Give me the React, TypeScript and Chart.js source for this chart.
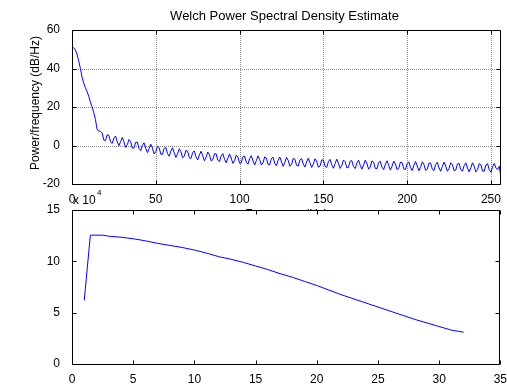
import React, { useEffect, useRef } from "react";
import { Chart, registerables } from "chart.js";

Chart.register(...registerables);

const W = 507;
const H = 386;
const FONT = '"Liberation Sans", Arial, Helvetica, sans-serif';

// Top subplot: Welch PSD (dB/Hz) at frequencies 0..256
const psdDb = [
  51.2, 50.8, 49.6, 47.5, 44.0, 40.0, 35.5, 32.5, 30.0, 28.0,
  25.5, 22.5, 20.0, 17.0, 13.5, 8.2, 7.6, 7.3, 6.5, 2.8,
  2.6, 5.6, 5.3, 1.9, 1.1, 3.9, 4.9, 1.9, -0.1, 2.1,
  4.2, 1.9, -1.0, 0.4, 3.1, 2.0, -1.4, -1.3, 1.7, 1.8,
  -1.5, -2.7, 0.1, 1.4, -1.5, -3.7, -1.6, 0.7, -1.3, -4.4,
  -3.3, -0.4, -1.1, -4.5, -4.6, -1.5, -1.0, -4.2, -5.6, -2.9,
  -1.2, -3.8, -6.2, -4.3, -1.7, -3.3, -6.4, -5.6, -2.5, -3.0,
  -6.3, -6.7, -3.7, -2.8, -5.9, -7.5, -4.9, -3.0, -5.3, -7.9,
  -6.2, -3.4, -4.8, -7.9, -7.4, -4.3, -4.3, -7.6, -8.4, -5.4,
  -4.2, -7.1, -9.0, -6.6, -4.4, -6.5, -9.3, -7.9, -5.0, -6.0,
  -9.2, -9.0, -5.8, -5.5, -8.7, -9.7, -6.8, -5.3, -8.0, -10.1,
  -7.9, -5.4, -7.3, -10.1, -9.0, -5.9, -6.6, -9.8, -9.9, -6.7,
  -6.1, -9.3, -10.5, -7.7, -6.0, -8.5, -10.8, -8.8, -6.2, -7.7,
  -10.8, -9.9, -6.7, -7.1, -10.3, -10.7, -7.6, -6.7, -9.7, -11.2,
  -8.6, -6.6, -8.9, -11.4, -9.7, -6.9, -8.1, -11.3, -10.7, -7.5,
  -7.5, -10.8, -11.4, -8.4, -7.2, -10.0, -11.8, -9.4, -7.1, -9.2,
  -11.9, -10.4, -7.5, -8.4, -11.6, -11.3, -8.1, -7.9, -11.0, -12.0,
  -9.1, -7.6, -10.3, -12.3, -10.1, -7.6, -9.4, -12.3, -11.1, -8.0,
  -8.7, -11.9, -12.0, -8.8, -8.2, -11.3, -12.5, -9.7, -7.9, -10.5,
  -12.8, -10.7, -8.1, -9.6, -12.6, -11.7, -8.6, -8.9, -12.2, -12.5,
  -9.4, -8.5, -11.5, -13.0, -10.3, -8.3, -10.6, -13.1, -11.3, -8.5,
  -9.8, -12.9, -12.3, -9.1, -9.1, -12.3, -13.0, -9.9, -8.7, -11.6,
  -13.4, -10.9, -8.6, -10.7, -13.4, -11.9, -9.0, -9.9, -13.1, -12.8,
  -9.6, -9.3, -12.5, -13.4, -10.5, -9.0, -11.7, -13.7, -11.5, -9.0,
  -10.8, -13.7, -12.5, -9.4, -10.1, -13.3, -13.3, -10.1, -9.5, -12.6,
  -13.9, -11.0, -9.3, -11.8, -12.5, -10.8, -17.0,
];
const topXTicks = [0, 50, 100, 150, 200, 250];
const topYTicks = [-20, 0, 20, 40, 60];

// Bottom subplot (values x 10^4)
const botX = [1, 1.5, 2.5, 3, 4, 5, 6, 7, 8, 9, 10, 11, 12, 13, 14, 15, 16, 17, 18, 19, 20, 21, 22, 23, 24, 25, 26, 27, 28, 29, 30, 31, 32];
const botY = [6.2, 12.55, 12.55, 12.45, 12.35, 12.2, 12.0, 11.75, 11.55, 11.35, 11.1, 10.8, 10.45, 10.2, 9.9, 9.55, 9.2, 8.8, 8.45, 8.05, 7.65, 7.2, 6.75, 6.35, 5.95, 5.55, 5.15, 4.75, 4.35, 4.0, 3.65, 3.3, 3.1];
const botXTicks = [0, 5, 10, 15, 20, 25, 30, 35];
const botYTicks = [0, 5, 10, 15];

const TITLE = "Welch Power Spectral Density Estimate";
const YLABEL = "Power/frequency (dB/Hz)";
const XLABEL = "Frequency (Hz)";

type Cfg = {
  grid: boolean;
  xTicks: number[];
  yTicks: number[];
  extra?: (ctx: CanvasRenderingContext2D, chart: any) => void;
};

function axesPlugin(id: string, cfg: Cfg) {
  return {
    id,
    beforeDatasetsDraw(chart: any) {
      if (!cfg.grid) return;
      const { ctx, chartArea: a } = chart;
      const xs = chart.scales.x;
      const ys = chart.scales.y;
      ctx.save();
      ctx.strokeStyle = "#8c8c8c";
      ctx.lineWidth = 1;
      ctx.setLineDash([1, 1]);
      ctx.beginPath();
      for (const v of cfg.xTicks) {
        const p = Math.round(xs.getPixelForValue(v)) + 0.5;
        if (p <= a.left + 2 || p >= a.right - 2) continue;
        ctx.moveTo(p, a.top);
        ctx.lineTo(p, a.bottom);
      }
      for (const v of cfg.yTicks) {
        const p = Math.round(ys.getPixelForValue(v)) + 0.5;
        if (p <= a.top + 2 || p >= a.bottom - 2) continue;
        ctx.moveTo(a.left, p);
        ctx.lineTo(a.right, p);
      }
      ctx.stroke();
      ctx.restore();
    },
    afterDatasetsDraw(chart: any) {
      const { ctx, chartArea: a } = chart;
      const xs = chart.scales.x;
      const ys = chart.scales.y;
      const L = Math.round(a.left) + 0.5;
      const R = Math.round(a.right) - 0.5;
      const T = Math.round(a.top) + 0.5;
      const B = Math.round(a.bottom) + 0.5;
      const tl = 4;
      ctx.save();
      ctx.strokeStyle = "#000";
      ctx.lineWidth = 1;
      ctx.setLineDash([]);
      ctx.beginPath();
      ctx.rect(L, T, R - L, B - T);
      for (const v of cfg.xTicks) {
        const p = Math.round(xs.getPixelForValue(v)) + 0.5;
        ctx.moveTo(p, B);
        ctx.lineTo(p, B - tl);
        ctx.moveTo(p, T);
        ctx.lineTo(p, T + tl);
      }
      for (const v of cfg.yTicks) {
        const p = Math.round(ys.getPixelForValue(v)) + 0.5;
        ctx.moveTo(L, p);
        ctx.lineTo(L + tl, p);
        ctx.moveTo(R, p);
        ctx.lineTo(R - tl, p);
      }
      ctx.stroke();
      if (cfg.extra) cfg.extra(ctx, chart);
      ctx.restore();
    },
  };
}

function scaleOpts(min: number, max: number, ticks: number[], isX: boolean) {
  return {
    type: "linear" as const,
    min,
    max,
    grid: { display: false },
    border: { display: false },
    afterBuildTicks: (s: any) => {
      s.ticks = ticks.map((v) => ({ value: v }));
    },
    afterFit: (s: any) => {
      if (isX) s.height = 20;
      else s.width = 72;
    },
    ticks: {
      color: "#000",
      font: { family: FONT, size: 12 },
      padding: isX ? 0 : 4,
      maxRotation: 0,
      autoSkip: false,
    },
  };
}

export default function App() {
  const topRef = useRef<HTMLCanvasElement>(null);
  const botRef = useRef<HTMLCanvasElement>(null);

  useEffect(() => {
    document.body.style.margin = "0";
    const charts: Chart[] = [];

    const topPoints = psdDb.map((y, i) => ({ x: i, y }));
    const botPoints = botX.map((x, i) => ({ x, y: botY[i] }));

    if (topRef.current) {
      charts.push(
        new Chart(topRef.current, {
          type: "line",
          data: {
            datasets: [
              {
                data: topPoints,
                borderColor: "#0000ff",
                borderWidth: 1,
                pointRadius: 0,
                tension: 0,
                fill: false,
              },
            ],
          },
          options: {
            animation: false,
            responsive: false,
            devicePixelRatio: 1,
            layout: { padding: { top: 30, left: 0, right: 6, bottom: H - 184 - 20 } },
            plugins: { legend: { display: false }, tooltip: { enabled: false } },
            scales: {
              x: scaleOpts(0, 256, topXTicks, true),
              y: scaleOpts(-20, 60, topYTicks, false),
            },
          },
          plugins: [
            axesPlugin("topAxes", {
              grid: true,
              xTicks: topXTicks,
              yTicks: topYTicks,
              extra: (ctx, chart) => {
                const a = chart.chartArea;
                const cx = (a.left + a.right) / 2;
                ctx.fillStyle = "#000";
                ctx.font = `13px ${FONT}`;
                ctx.textAlign = "center";
                ctx.textBaseline = "alphabetic";
                ctx.fillText(TITLE, cx - 2, 20);
                // y label
                ctx.save();
                ctx.translate(39, 103);
                ctx.rotate(-Math.PI / 2);
                ctx.font = `12px ${FONT}`;
                ctx.fillText(YLABEL, 0, 0);
                ctx.restore();
                // x label (mostly hidden under lower axes)
                ctx.save();
                ctx.beginPath();
                ctx.rect(0, 0, W, 210);
                ctx.clip();
                ctx.font = `12px ${FONT}`;
                ctx.fillText(XLABEL, cx, 218);
                ctx.restore();
              },
            }),
          ],
        } as any)
      );
    }

    if (botRef.current) {
      charts.push(
        new Chart(botRef.current, {
          type: "line",
          data: {
            datasets: [
              {
                data: botPoints,
                borderColor: "#0000ff",
                borderWidth: 1,
                pointRadius: 0,
                tension: 0,
                fill: false,
              },
            ],
          },
          options: {
            animation: false,
            responsive: false,
            devicePixelRatio: 1,
            layout: { padding: { top: 210, left: 0, right: 6, bottom: H - 364 - 20 } },
            plugins: { legend: { display: false }, tooltip: { enabled: false } },
            scales: {
              x: scaleOpts(0, 35, botXTicks, true),
              y: scaleOpts(0, 15, botYTicks, false),
            },
          },
          plugins: [
            axesPlugin("botAxes", {
              grid: false,
              xTicks: botXTicks,
              yTicks: botYTicks,
              extra: (ctx) => {
                ctx.fillStyle = "#000";
                ctx.textAlign = "left";
                ctx.textBaseline = "alphabetic";
                ctx.font = `12px ${FONT}`;
                ctx.fillText("x 10", 73, 204);
                ctx.font = `8px ${FONT}`;
                ctx.fillText("4", 97, 195);
              },
            }),
          ],
        } as any)
      );
    }

    return () => {
      charts.forEach((c) => c.destroy());
    };
  }, []);

  return (
    <div style={{ position: "relative", width: W, height: H, background: "#fff" }}>
      <canvas ref={topRef} width={W} height={H} style={{ position: "absolute", left: 0, top: 0 }} />
      <canvas ref={botRef} width={W} height={H} style={{ position: "absolute", left: 0, top: 0 }} />
    </div>
  );
}
